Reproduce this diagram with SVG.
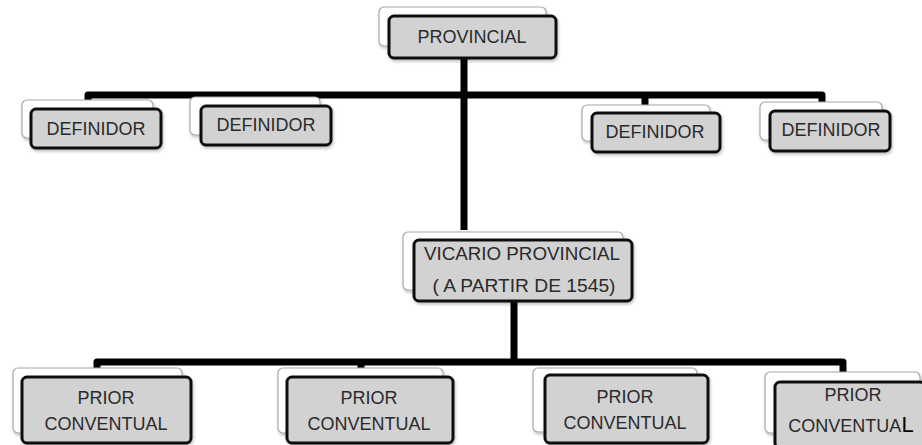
<svg xmlns="http://www.w3.org/2000/svg" width="922" height="445" viewBox="0 0 922 445">
<defs>
<filter id="sh" x="-10%" y="-10%" width="130%" height="140%">
<feDropShadow dx="1" dy="2" stdDeviation="1.5" flood-color="#000" flood-opacity="0.25"/>
</filter>
<style>
.back{fill:#fff;stroke:#a8a8a8;stroke-width:1.2;filter:url(#sh)}
.front{fill:#d2d2d2;stroke:#111;stroke-width:3;filter:url(#sh)}
.t{font-family:"Liberation Sans",Arial,sans-serif;font-size:18px;fill:#2a2a2a;text-anchor:middle}
.c{fill:none;stroke:#000;stroke-width:7;stroke-linejoin:round;stroke-linecap:butt}
</style>
</defs>
<rect width="922" height="445" fill="#fff"/>
<g id="connectors">
<path class="c" d="M88,104 V95 H822 V103"/>
<path class="c" d="M645,95 V106"/>
<path class="c" d="M464,58 V230"/>
<path class="c" d="M514,302 V362"/>
<path class="c" d="M97,369 V362 H843 V372"/>
<path class="c" d="M361,362 V369"/>
</g>
<g id="provincial">
<rect class="back" x="379" y="7" width="167" height="39" rx="5"/>
<rect class="front" x="389" y="16" width="167" height="42" rx="5"/>
<text class="t" x="472" y="43">PROVINCIAL</text>
</g>
<g id="definidor1">
<rect class="back" x="22" y="100" width="131" height="38" rx="5"/>
<rect class="front" x="31" y="109" width="130" height="39" rx="5"/>
<text class="t" x="96" y="135">DEFINIDOR</text>
</g>
<g id="definidor2">
<rect class="back" x="190" y="97" width="130" height="38" rx="5"/>
<rect class="front" x="201" y="106" width="130" height="39" rx="5"/>
<text class="t" x="266" y="131">DEFINIDOR</text>
</g>
<g id="definidor3">
<rect class="back" x="582" y="105" width="128" height="36" rx="5"/>
<rect class="front" x="592" y="113" width="128" height="39" rx="5"/>
<text class="t" x="655" y="138">DEFINIDOR</text>
</g>
<g id="definidor4">
<rect class="back" x="760" y="102" width="122" height="38" rx="5"/>
<rect class="front" x="770" y="111" width="120" height="40" rx="5"/>
<text class="t" x="831" y="136">DEFINIDOR</text>
</g>
<g id="vicario">
<rect class="back" x="403" y="232" width="220" height="58" rx="5"/>
<rect class="front" x="414" y="240" width="218" height="61" rx="5"/>
<text class="t" x="522" y="260" textLength="196" lengthAdjust="spacingAndGlyphs">VICARIO PROVINCIAL</text>
<text class="t" x="524" y="292" textLength="183" lengthAdjust="spacingAndGlyphs">( A PARTIR DE 1545)</text>
</g>
<g id="prior1">
<rect class="back" x="13" y="368" width="169" height="65" rx="5"/>
<rect class="front" x="22" y="377" width="169" height="66" rx="5"/>
<text class="t" x="106" y="404">PRIOR</text>
<text class="t" x="106" y="430">CONVENTUAL</text>
</g>
<g id="prior2">
<rect class="back" x="278" y="368" width="165" height="65" rx="5"/>
<rect class="front" x="287" y="377" width="166" height="66" rx="5"/>
<text class="t" x="369" y="404">PRIOR</text>
<text class="t" x="369" y="430">CONVENTUAL</text>
</g>
<g id="prior3">
<rect class="back" x="533" y="368" width="164" height="64" rx="5"/>
<rect class="front" x="545" y="375" width="163" height="68" rx="5"/>
<text class="t" x="625" y="403">PRIOR</text>
<text class="t" x="625" y="429">CONVENTUAL</text>
</g>
<g id="prior4">
<rect class="back" x="765" y="372" width="155" height="61" rx="5"/>
<rect class="front" x="775" y="382" width="150" height="66" rx="5"/>
<text class="t" x="853" y="401">PRIOR</text>
<text class="t" x="851" y="432">CONVENTUA<tspan font-size="22" fill="#000">L</tspan></text>
</g>
</svg>
